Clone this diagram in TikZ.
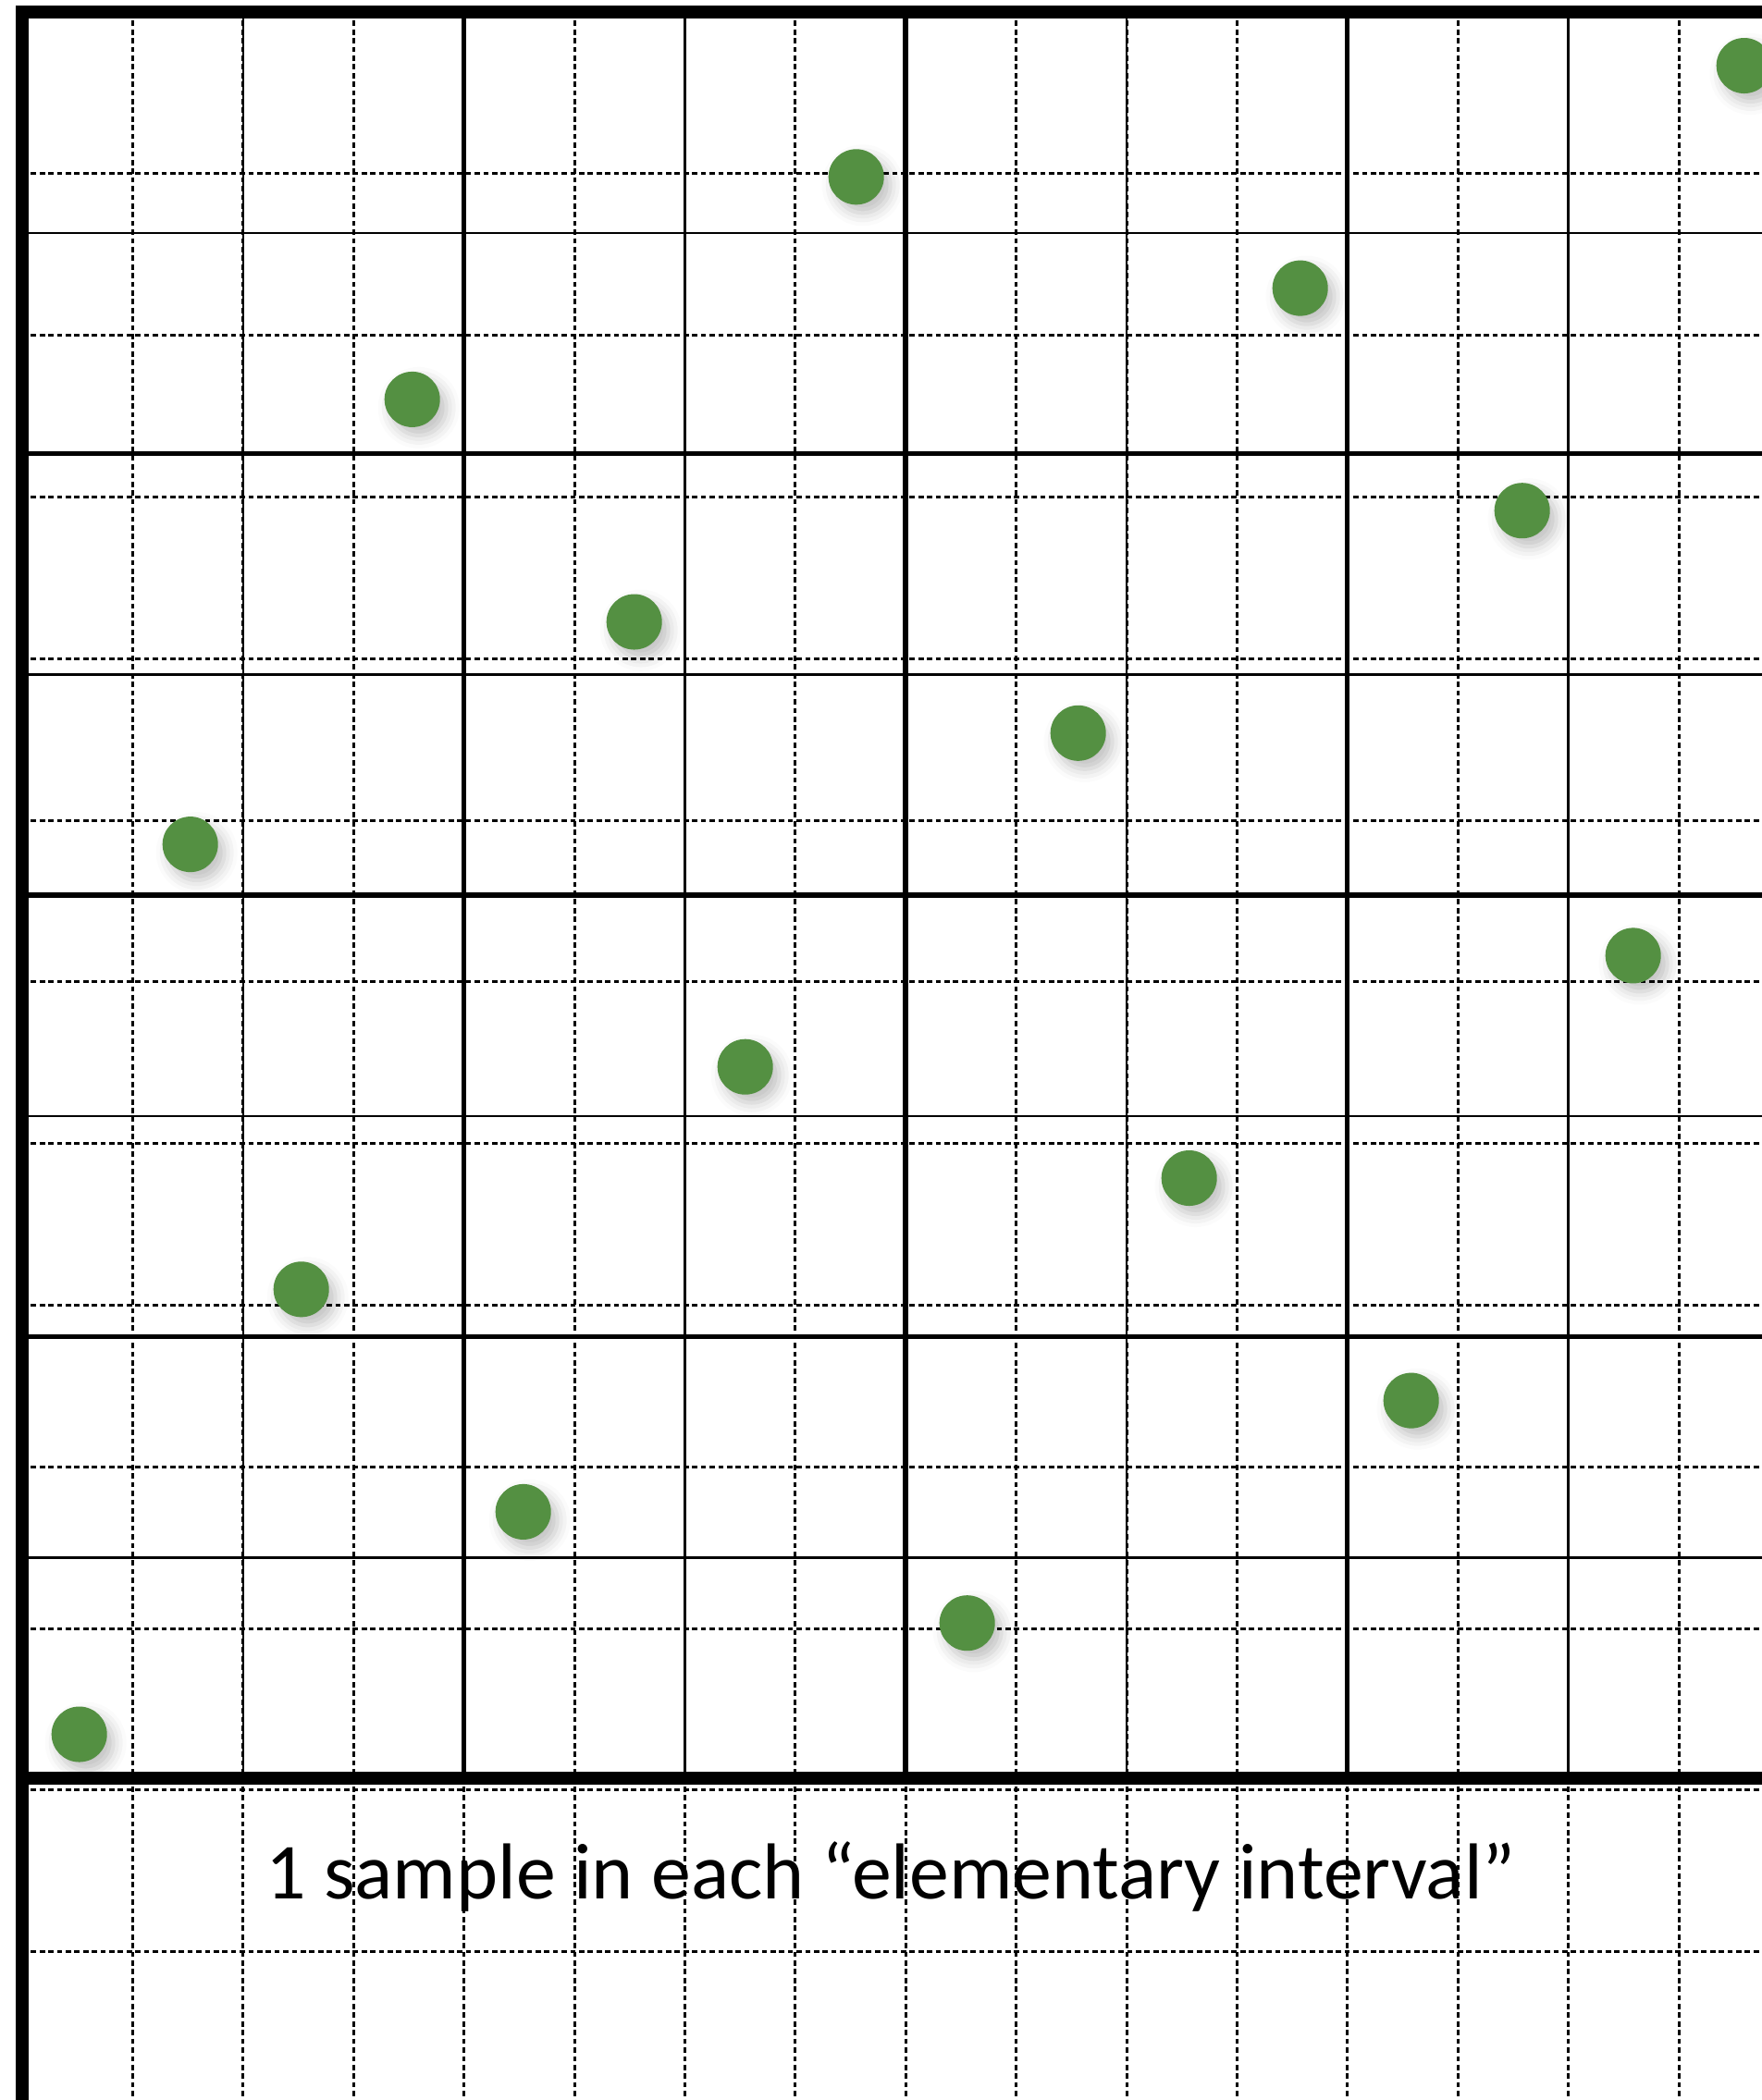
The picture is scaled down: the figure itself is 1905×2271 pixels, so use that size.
\documentclass[tikz,border=0pt]{standalone}
\usepackage{fontspec}
\setmainfont{Carlito}
\usetikzlibrary{shadows.blur}
\definecolor{dotGreen}{RGB}{84,144,66}

\begin{document}
\begin{tikzpicture}[
    x=0.01cm, y=-0.01cm,
    frame/.style={line width=0.14cm, line cap=rect},
    quarter/.style={line width=0.055cm},
    eighth/.style={line width=0.025cm},
    paper/.style={line width=0.03cm, dash pattern=on 0.057cm off 0.037cm},
    sample/.style={circle, fill=dotGreen, minimum size=0.6cm, inner sep=0pt,
                   blur shadow={shadow xshift=0.07cm, shadow yshift=-0.09cm,
                                shadow blur radius=0.14cm, shadow opacity=25}},
    caption/.style={font=\fontsize{24.4pt}{29pt}\selectfont, inner sep=0pt}
]
\useasboundingbox (0,0) rectangle (1905,2271);
\clip (0,0) rectangle (1905,2271);

% PAPER --- dashed background grid
\foreach \k in {1,...,15}
  \draw[paper] ({24+119.4*\k},13) -- ({24+119.4*\k},2271);
\foreach \k in {1,...,12}
  \draw[paper] (24,{13+174.8*\k}) -- (1934,{13+174.8*\k});

% SQUARE --- eighths (thin) and quarters (thick)
\foreach \k in {1,3,5,7} {
  \draw[eighth] ({24+238.75*\k},13) -- ({24+238.75*\k},1923);
  \draw[eighth] (24,{13+238.75*\k}) -- (1934,{13+238.75*\k});
}
\foreach \k in {2,4,6} {
  \draw[quarter] ({24+238.75*\k},13) -- ({24+238.75*\k},1923);
  \draw[quarter] (24,{13+238.75*\k}) -- (1934,{13+238.75*\k});
}

% outer frame
\draw[frame] (24,13) -- (1934,13);
\draw[frame] (24,13) -- (24,2271);
\draw[frame] (24,1923) -- (1934,1923);

% SAMPLES --- one per elementary interval
\foreach \i/\j in {0/0, 8/1, 4/2, 12/3, 2/4, 10/5, 6/6, 14/7,
                   1/8, 9/9, 5/10, 13/11, 3/12, 11/13, 7/14, 15/15}
  \node[sample] (s\j) at ({85.7+120*\i},{1875.5-120.3*\j}) {};

\node[caption, anchor=base] (note) at (963,2053)
  {1 sample in each “elementary interval”};

\end{tikzpicture}
\end{document}
